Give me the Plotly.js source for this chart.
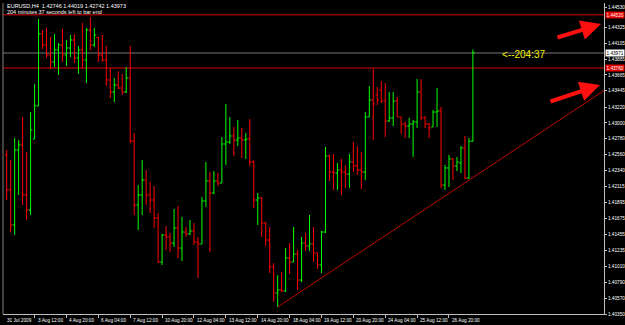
<!DOCTYPE html>
<html>
<head>
<meta charset="utf-8">
<script src="https://cdn.plot.ly/plotly-3.0.1.min.js"></script>
<style>html,body{margin:0;padding:0;background:#000;}#chart{width:625px;height:325px;}</style>
</head>
<body>
<div id="chart"></div>
<script>
// EURUSD H4 bars (index 1..118)
const openP = [
1.42556,1.42070,1.41585,1.42625,1.42694,1.42001,1.41792,1.42777,1.43235,1.44234,
1.44081,1.43943,1.43845,1.44012,1.44081,1.43943,1.44039,1.44150,1.43901,1.44012,
1.43873,1.44289,1.44081,1.44185,1.43943,1.43873,1.43595,1.43429,1.43526,1.43484,
1.43429,1.43623,1.42749,1.41862,1.42001,1.42208,1.42001,1.41931,1.41682,1.41071,
1.41446,1.41418,1.41334,1.41543,1.41265,1.41487,1.41460,1.41501,1.41348,1.41321,
1.41917,1.42194,1.42028,1.42194,1.42166,1.42708,1.42735,1.42819,1.42763,1.42791,
1.42763,1.42777,1.42458,1.41931,1.41959,1.41612,1.41376,1.41002,1.40641,1.40683,
1.40669,1.41127,1.41071,1.41182,1.40821,1.41334,1.41293,1.41321,1.41196,1.41030,
1.41487,1.42542,1.42319,1.42305,1.42347,1.42319,1.42291,1.42458,1.42403,1.42347,
1.42319,1.43083,1.43318,1.43388,1.43457,1.43304,1.43027,1.43069,1.43304,1.43083,
1.42985,1.42957,1.42985,1.43013,1.43429,1.43069,1.42985,1.42944,1.43151,1.43165,
1.42139,1.42375,1.42500,1.42403,1.42444,1.42652,1.42236,1.42746];
const highP = [
1.42625,1.42486,1.42791,1.42763,1.43082,1.42597,1.43151,1.43540,1.44442,1.44289,
1.44317,1.44192,1.44234,1.44108,1.44303,1.44150,1.44220,1.44234,1.44067,1.44386,
1.44317,1.44469,1.44317,1.44192,1.44220,1.44067,1.43762,1.43623,1.43720,1.43679,
1.43776,1.44067,1.42860,1.42139,1.42486,1.42347,1.42180,1.42125,1.41750,1.41460,
1.41571,1.41473,1.41806,1.41848,1.41696,1.41557,1.41654,1.41612,1.41418,1.41973,
1.42458,1.42319,1.42333,1.42305,1.42805,1.43263,1.43083,1.42944,1.43041,1.42930,
1.42860,1.43055,1.42486,1.42028,1.41973,1.41626,1.41557,1.41057,1.40890,1.40932,
1.41265,1.41334,1.41557,1.41238,1.41418,1.41473,1.41723,1.41557,1.41196,1.41501,
1.42667,1.42556,1.42569,1.42444,1.42500,1.42417,1.42569,1.42735,1.42680,1.42597,
1.43151,1.43512,1.43748,1.43498,1.43581,1.43553,1.43429,1.43429,1.43360,1.43083,
1.43013,1.43069,1.43041,1.43609,1.43609,1.43096,1.42999,1.43179,1.43484,1.43221,
1.42417,1.42556,1.42514,1.42528,1.42680,1.42819,1.42791,1.44019];
const lowP = [
1.41931,1.41487,1.41446,1.42001,1.41862,1.41654,1.41723,1.42777,1.43235,1.44026,
1.43901,1.43748,1.43776,1.43665,1.43845,1.43790,1.43915,1.43831,1.43679,1.43748,
1.43553,1.44012,1.44053,1.43845,1.43845,1.43512,1.43346,1.43290,1.43470,1.43388,
1.43415,1.42721,1.41723,1.41515,1.41723,1.41862,1.41750,1.41543,1.41057,1.41030,
1.41238,1.41210,1.41279,1.41127,1.41085,1.41418,1.41446,1.41307,1.40849,1.41321,
1.41834,1.41210,1.42014,1.42125,1.42166,1.42417,1.42708,1.42542,1.42680,1.42514,
1.42500,1.42403,1.41820,1.41585,1.41418,1.41293,1.40918,1.40516,1.40447,1.40655,
1.40655,1.40905,1.41071,1.40683,1.40793,1.41224,1.41224,1.41071,1.40974,1.40918,
1.41473,1.42194,1.42070,1.42070,1.42001,1.42097,1.42097,1.42319,1.42278,1.42083,
1.42208,1.43083,1.42763,1.43249,1.43276,1.42805,1.43013,1.42957,1.43083,1.42847,
1.42791,1.42791,1.42528,1.42930,1.43041,1.42930,1.42791,1.42944,1.42944,1.42097,
1.42070,1.42111,1.42208,1.42333,1.42305,1.42222,1.42222,1.42742];
const closeP = [
1.42070,1.41585,1.42625,1.42694,1.42001,1.41792,1.42902,1.43235,1.44234,1.44081,
1.43943,1.43845,1.44012,1.44081,1.43943,1.44039,1.44150,1.43901,1.44012,1.43873,
1.44289,1.44081,1.44220,1.43943,1.43873,1.43595,1.43429,1.43526,1.43484,1.43429,
1.43623,1.42749,1.41862,1.42001,1.42208,1.42001,1.41931,1.41682,1.41071,1.41446,
1.41418,1.41334,1.41543,1.41265,1.41487,1.41460,1.41501,1.41348,1.41321,1.41917,
1.42194,1.42028,1.42194,1.42166,1.42708,1.42735,1.42819,1.42763,1.42791,1.42763,
1.42777,1.42458,1.41931,1.41959,1.41612,1.41376,1.41002,1.40641,1.40683,1.40669,
1.41127,1.41071,1.41182,1.40821,1.41334,1.41293,1.41321,1.41196,1.41030,1.41487,
1.42542,1.42319,1.42305,1.42347,1.42319,1.42291,1.42458,1.42403,1.42347,1.42319,
1.43083,1.43318,1.43263,1.43318,1.43304,1.43027,1.43069,1.43304,1.43083,1.42985,
1.42957,1.42985,1.43013,1.43429,1.43069,1.42985,1.42930,1.43151,1.43165,1.42139,
1.42375,1.42500,1.42403,1.42458,1.42652,1.42236,1.42749,1.43973];

// time axis labels (every 8 bars)
const timeTickBars = [0,8,16,24,32,40,48,56,64,72,80,88,96,104,112];
const timeTickLabels = ["31 Jul 2009","3 Aug 12:00","4 Aug 20:00","6 Aug 04:00","7 Aug 12:00",
  "10 Aug 20:00","12 Aug 04:00","13 Aug 12:00","14 Aug 20:00","18 Aug 04:00","19 Aug 12:00",
  "20 Aug 20:00","24 Aug 04:00","25 Aug 12:00","26 Aug 20:00"];

// price axis labels
const priceTicks = [1.40350,1.40570,1.40790,1.41010,1.41235,1.41455,1.41675,1.41895,1.42115,1.42340,
  1.42560,1.42780,1.43000,1.43220,1.43445,1.43665,1.43885,1.44105,1.44325,1.44600];
const priceTickLabels = ["1.40350","1.40570","1.40790","1.41010","1.41235","1.41455","1.41675","1.41895","1.42115","1.42340",
  "1.42560","1.42780","1.43000","1.43220","1.43445","1.43665","1.43885","1.44105","1.44325","1.44530"];

// horizontal levels
const resistanceLevels = [1.44500, 1.43760];
const resistanceLabels = ["1.44520", "1.43760"];
const bidPrice = 1.43971;
const bidLabel = "1.43971";

// trend line (support) endpoints: bar index and price
const trendBars = [69, 152];
const trendPrices = [1.40447, 1.43489];

const headerLine1 = "EURUSD,H4  1.42746 1.44019 1.42742 1.43973";
const headerLine2 = "204 minutes 37 seconds left to bar end";
const timerText = "<--204:37";

const barIdx = openP.map((_, i) => i + 1);

const FONT = "Liberation Sans, Arial, sans-serif";
const SMALL = 4.7;
const X_START = 0.075, X_END = 150.9;

const traces = [
  {
    type: "ohlc",
    x: barIdx, open: openP, high: highP, low: lowP, close: closeP,
    increasing: {line: {color: "#00ff00", width: 1}},
    decreasing: {line: {color: "#ff0000", width: 1}},
    tickwidth: 0.45,
    hoverinfo: "skip",
    showlegend: false
  },
  {
    type: "scatter", mode: "lines",
    x: trendBars, y: trendPrices,
    line: {color: "rgb(190,0,0)", width: 1},
    hoverinfo: "skip", showlegend: false
  }
];

const shapes = [];
resistanceLevels.forEach(lv => shapes.push({
  type: "line", xref: "paper", x0: 0, x1: 1, yref: "y", y0: lv, y1: lv,
  line: {color: "rgb(150,0,0)", width: 1.5}, layer: "below"
}));
shapes.push({
  type: "line", xref: "paper", x0: 0, x1: 1, yref: "y", y0: bidPrice, y1: bidPrice,
  line: {color: "rgb(60,60,60)", width: 2}, layer: "below"
});
shapes.push({type: "line", xref: "paper", yref: "paper", x0: 0, x1: 0, y0: 0, y1: 1,
  line: {color: "#808080", width: 1}});

const annotations = [
  {xref: "paper", yref: "paper", x: 0, y: 1, xanchor: "left", yanchor: "top", xshift: 2, yshift: 2,
   text: headerLine1, showarrow: false, font: {family: FONT, size: 5.5, color: "#ffffff"}},
  {xref: "paper", yref: "paper", x: 0, y: 1, xanchor: "left", yanchor: "top", xshift: 2, yshift: -4,
   text: headerLine2, showarrow: false, font: {family: FONT, size: 5.5, color: "#ffffff"}},
  {xref: "paper", yref: "y", x: 0.827, y: bidPrice, xanchor: "left", yanchor: "middle", yshift: -2,
   text: timerText, showarrow: false, font: {family: FONT, size: 10, color: "#f0f000"}},
  {xref: "paper", yref: "paper", x: 0.995, y: 0.9325, ax: -45, ay: 14, text: "", showarrow: true,
   arrowhead: 2, arrowsize: 1, arrowwidth: 4, arrowcolor: "#ff1010", standoff: 0},
  {xref: "paper", yref: "paper", x: 0.9933, y: 0.7363, ax: -51, ay: 17, text: "", showarrow: true,
   arrowhead: 2, arrowsize: 1, arrowwidth: 4, arrowcolor: "#ff1010", standoff: 0}
];
// time labels placed to the right of each tick, as in the terminal
timeTickBars.forEach((b, i) => annotations.push({
  xref: "paper", yref: "paper", x: (b - X_START) / (X_END - X_START), y: 0,
  xanchor: "left", yanchor: "top", xshift: (i === 0 ? 2 : 1), yshift: -2,
  text: timeTickLabels[i], showarrow: false, font: {family: FONT, size: SMALL, color: "#ffffff"}
}));
resistanceLevels.forEach((lv, i) => annotations.push({
  xref: "paper", yref: "y", x: 1, y: lv, xanchor: "left", yanchor: "middle", xshift: 1,
  text: resistanceLabels[i], showarrow: false, bgcolor: "#e00000", borderpad: 0.5,
  font: {family: FONT, size: SMALL, color: "#ffffff"}
}));
annotations.push({
  xref: "paper", yref: "y", x: 1, y: bidPrice, xanchor: "left", yanchor: "middle", xshift: 1,
  text: bidLabel, showarrow: false, bgcolor: "#ffffff", borderpad: 0.5,
  font: {family: FONT, size: SMALL, color: "#000000"}
});

const layout = {
  width: 625, height: 325,
  paper_bgcolor: "#000000", plot_bgcolor: "#000000",
  margin: {l: 3, r: 21, t: 3, b: 11, pad: 0},
  showlegend: false,
  font: {family: FONT, size: SMALL, color: "#ffffff"},
  xaxis: {
    range: [X_START, X_END], rangeslider: {visible: false},
    tickmode: "array", tickvals: timeTickBars, ticktext: timeTickLabels,
    showticklabels: false,
    ticks: "outside", ticklen: 3, tickcolor: "#c0c0c0", tickwidth: 1,
    showgrid: false, zeroline: false,
    showline: true, linecolor: "#c0c0c0", linewidth: 1,
    automargin: false, fixedrange: true
  },
  yaxis: {
    side: "right", range: [1.40350, 1.44663],
    tickmode: "array", tickvals: priceTicks, ticktext: priceTickLabels,
    ticks: "outside", ticklen: 2, tickcolor: "#c0c0c0", tickwidth: 1,
    ticklabelstandoff: 0,
    tickfont: {family: FONT, size: SMALL, color: "#ffffff"},
    showgrid: false, zeroline: false,
    showline: true, linecolor: "#c0c0c0", linewidth: 1,
    automargin: false, fixedrange: true
  },
  shapes: shapes,
  annotations: annotations
};

Plotly.newPlot("chart", traces, layout, {staticPlot: true, displayModeBar: false});
</script>
</body>
</html>
